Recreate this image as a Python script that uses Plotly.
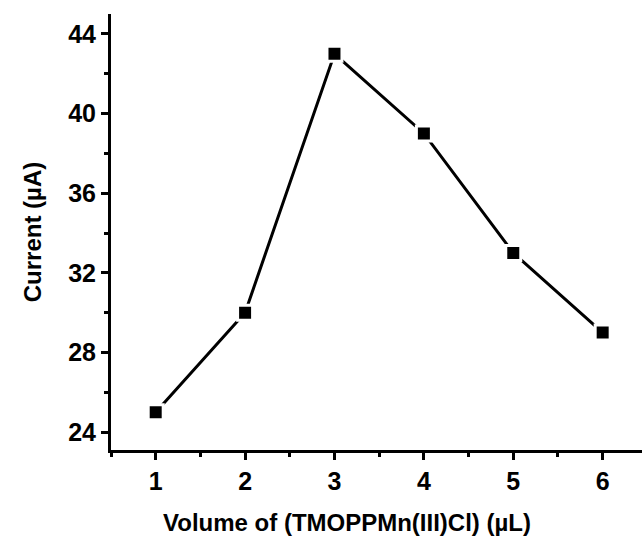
import plotly.graph_objects as go

volume = [1, 2, 3, 4, 5, 6]
current = [25, 30, 43, 39, 33, 29]
x_ticks = [1, 2, 3, 4, 5, 6]
y_ticks = [24, 28, 32, 36, 40, 44]

fig = go.Figure()
fig.add_trace(go.Scatter(
    x=volume, y=current, mode="lines",
    line=dict(color="black", width=3),
    showlegend=False,
))
fig.add_trace(go.Scatter(
    x=volume, y=current, mode="markers",
    marker=dict(symbol="square", size=15, color="black", line=dict(color="white", width=3)),
    showlegend=False,
))

font_family = "Liberation Sans, Arial, sans-serif"
fig.update_layout(
    width=642, height=538,
    margin=dict(l=111, r=0, t=14, b=88),
    paper_bgcolor="white", plot_bgcolor="white",
    font=dict(family=font_family, color="black"),
)
fig.update_xaxes(
    range=[0.5, 6.44], tickvals=x_ticks, ticktext=[f"<b>{v}</b>" for v in x_ticks],
    showline=True, linecolor="black", linewidth=3, showgrid=False, zeroline=False,
    ticks="outside", ticklen=7, tickwidth=2.5, tickcolor="black",
    tickfont=dict(size=25, family=font_family),
    minor=dict(ticks="outside", ticklen=4, tickwidth=2.5, dtick=0.5, tick0=0.5, tickcolor="black", showgrid=False),
)
fig.update_yaxes(
    range=[23.1, 45.0], tickvals=y_ticks, ticktext=[f"<b>{v}</b>" for v in y_ticks],
    showline=True, linecolor="black", linewidth=3, showgrid=False, zeroline=False,
    ticks="outside", ticklen=7, tickwidth=2.5, tickcolor="black",
    tickfont=dict(size=25, family=font_family),
    minor=dict(ticks="outside", ticklen=4, tickwidth=2.5, dtick=2, tick0=0, tickcolor="black", showgrid=False),
    title=dict(text="<b>Current (µA)</b>", font=dict(size=24, family=font_family), standoff=20),
)
fig.add_annotation(
    text="<b>Volume of (TMOPPMn(III)Cl) (µL)</b>",
    xref="paper", yref="paper", x=(347 - 111) / 531, y=-(522 - 450) / 436,
    xanchor="center", yanchor="middle", showarrow=False,
    font=dict(size=24, family=font_family, color="black"),
)
fig.write_html("out.html")
